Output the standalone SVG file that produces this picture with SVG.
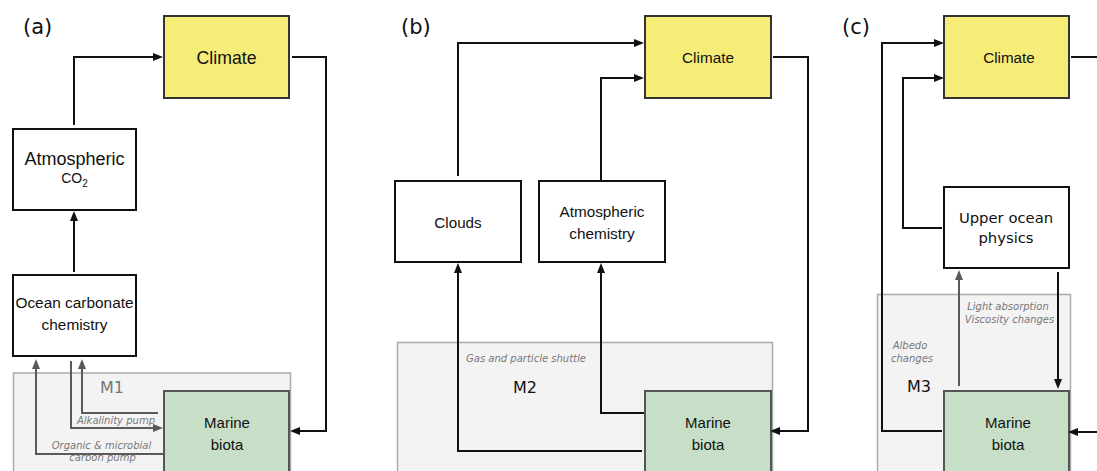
<svg xmlns="http://www.w3.org/2000/svg" width="1097" height="471" viewBox="0 0 1097 471">
<style>
.bg{fill:#ffffff}
.box{fill:#ffffff;stroke:#111;stroke-width:2}
.clim{fill:#f6ec78;stroke:#333;stroke-width:2}
.bio{fill:#c6dfc6;stroke:#555;stroke-width:2}
.mod{fill:#f3f3f3;stroke:#aaa;stroke-width:1.5}
.t{font-family:"Liberation Sans",Arial,sans-serif;fill:#111;text-anchor:middle}
.d{font-family:"DejaVu Sans",sans-serif;fill:#111;text-anchor:middle}
.it{font-family:"DejaVu Sans",sans-serif;font-style:italic;font-size:10px;fill:#777;text-anchor:middle}
.lab{font-family:"DejaVu Sans",sans-serif;font-size:21px;fill:#111}
.c{fill:none;stroke:#111;stroke-width:2}
.g{fill:none;stroke:#5a5a5a;stroke-width:2}
</style>
<defs>
<marker id="ab" markerUnits="userSpaceOnUse" markerWidth="10" markerHeight="10" viewBox="0 0 10 10" refX="6" refY="5" orient="auto"><path d="M0,1 L10,5 L0,9 z" fill="#111"/></marker>
<marker id="ag" markerUnits="userSpaceOnUse" markerWidth="10" markerHeight="10" viewBox="0 0 10 10" refX="6" refY="5" orient="auto"><path d="M0,1 L10,5 L0,9 z" fill="#5a5a5a"/></marker>
</defs>
<rect class="bg" x="0" y="0" width="1097" height="471"/>

<g id="labels">
<text class="lab" x="23" y="34">(a)</text>
<text class="lab" x="401" y="34">(b)</text>
<text class="lab" x="842" y="34">(c)</text>
</g>

<!-- module backgrounds -->
<g id="M1"><rect class="mod" x="13.5" y="373" width="277" height="120"/><text class="d" x="112" y="393" font-size="16" fill="#777" style="fill:#777">M1</text></g>
<g id="M2"><rect class="mod" x="397.5" y="342.5" width="375" height="150"/><text class="d" x="525" y="393" font-size="16">M2</text><text class="it" x="526" y="362">Gas and particle shuttle</text></g>
<g id="M3"><rect class="mod" x="877.5" y="294.5" width="193" height="200"/><text class="d" x="919" y="392" font-size="16">M3</text></g>

<!-- panel a nodes -->
<g id="a-climate"><rect class="clim" x="164" y="16" width="125" height="82"/><text class="t" x="226.5" y="63.5" font-size="17.7">Climate</text></g>
<g id="a-atmco2"><rect class="box" x="13" y="129" width="123" height="81"/><text class="t" x="74.5" y="165" font-size="18">Atmospheric</text><text class="t" x="74.5" y="183" font-size="14" style="text-anchor:middle">CO<tspan font-size="10" dy="4">2</tspan></text></g>
<g id="a-ocean"><rect class="box" x="13" y="275" width="123" height="81"/><text class="t" x="74.5" y="308" font-size="15.4">Ocean carbonate</text><text class="t" x="74.5" y="330" font-size="15.4">chemistry</text></g>
<g id="a-biota"><rect class="bio" x="164" y="391" width="125" height="100"/><text class="t" x="227" y="428" font-size="15">Marine</text><text class="t" x="227" y="450" font-size="15">biota</text></g>

<!-- panel b nodes -->
<g id="b-climate"><rect class="clim" x="645" y="16" width="126" height="82"/><text class="t" x="708" y="63" font-size="15.3">Climate</text></g>
<g id="b-clouds"><rect class="box" x="395" y="181" width="126" height="81"/><text class="t" x="458" y="228" font-size="15.2">Clouds</text></g>
<g id="b-atmchem"><rect class="box" x="539" y="181" width="126" height="81"/><text class="t" x="602" y="217" font-size="15.3">Atmospheric</text><text class="t" x="602" y="239" font-size="15.3">chemistry</text></g>
<g id="b-biota"><rect class="bio" x="645" y="391" width="126" height="100"/><text class="t" x="708" y="428" font-size="15">Marine</text><text class="t" x="708" y="450" font-size="15">biota</text></g>

<!-- panel c nodes -->
<g id="c-climate"><rect class="clim" x="944" y="16" width="125" height="82"/><text class="t" x="1009" y="63" font-size="15.2">Climate</text></g>
<g id="c-upper"><rect class="box" x="944" y="187" width="125" height="81"/><text class="d" x="1006" y="223" font-size="14.8">Upper ocean</text><text class="d" x="1006" y="243" font-size="14.8">physics</text></g>
<g id="c-biota"><rect class="bio" x="944" y="391" width="125" height="100"/><text class="t" x="1008" y="428" font-size="15">Marine</text><text class="t" x="1008" y="450" font-size="15">biota</text></g>

<g id="connectors">
<!-- a -->
<path class="c" d="M74,125 V57 H159" marker-end="url(#ab)"/>
<path class="c" d="M74,272 V215" marker-end="url(#ab)"/>
<path class="c" d="M292,57 H326 V431 H294" marker-end="url(#ab)"/>
<path class="g" d="M158,413 H82 V363" marker-end="url(#ag)"/>
<path class="g" d="M71,361 V428 H159" marker-end="url(#ag)"/>
<path class="g" d="M163,454 H36 V363" marker-end="url(#ag)"/>
<!-- b -->
<path class="c" d="M458,176 V43 H640" marker-end="url(#ab)"/>
<path class="c" d="M601,180 V78 H640" marker-end="url(#ab)"/>
<path class="c" d="M773,57 H808 V431 H774" marker-end="url(#ab)"/>
<path class="c" d="M644,413 H601 V267" marker-end="url(#ab)"/>
<path class="c" d="M642,451 H458 V267" marker-end="url(#ab)"/>
<!-- c -->
<path class="c" d="M942,431 H882 V43 H940" marker-end="url(#ab)"/>
<path class="c" d="M942,228 H903 V78 H940" marker-end="url(#ab)"/>
<path class="c" d="M1071,57 H1097"/>
<path class="g" d="M959,386 V274" marker-end="url(#ag)"/>
<path class="c" d="M1058,272 V385" marker-end="url(#ab)"/>
<path class="c" d="M1097,432 H1072" marker-end="url(#ab)"/>
</g>

<g id="edge-labels">
<text class="it" x="116" y="424">Alkalinity pump</text>
<text class="it" x="101.5" y="449">Organic &amp; microbial</text>
<text class="it" x="102.5" y="461">carbon pump</text>
<text class="it" x="1008" y="310">Light absorption</text>
<text class="it" x="1009.5" y="323">Viscosity changes</text>
<text class="it" x="910" y="349">Albedo</text>
<text class="it" x="912" y="362">changes</text>
</g>
</svg>
